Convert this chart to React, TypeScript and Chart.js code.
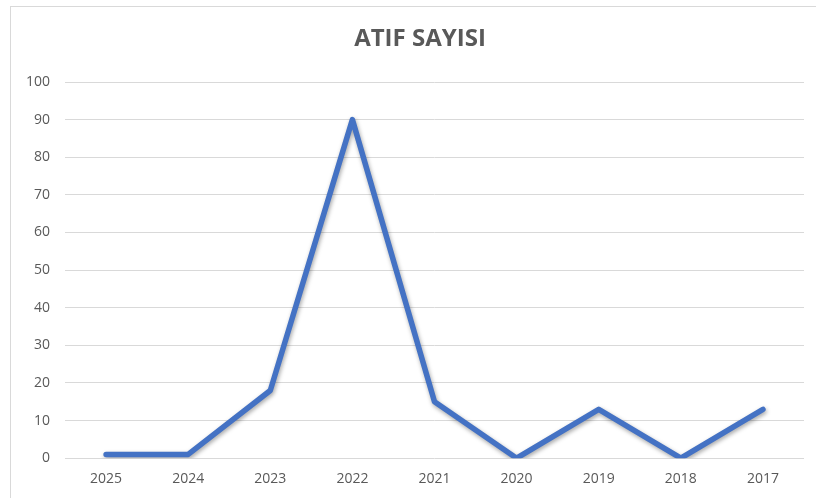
import React, { useEffect, useRef } from "react";
import { Chart, registerables } from "chart.js";

Chart.register(...registerables);

const years = ["2025", "2024", "2023", "2022", "2021", "2020", "2019", "2018", "2017"];
const citations = [1, 1, 18, 90, 15, 0, 13, 0, 13];
const titleText = "ATIF SAYISI";

const fontFamily = "'Open Sans', 'Liberation Sans', sans-serif";

const shadowPlugin = {
  id: "lineShadow",
  beforeDatasetsDraw(chart: any) {
    const ctx = chart.ctx;
    ctx.save();
    ctx.shadowColor = "rgba(0,0,0,0.35)";
    ctx.shadowBlur = 4;
    ctx.shadowOffsetX = 1;
    ctx.shadowOffsetY = 2;
  },
  afterDatasetsDraw(chart: any) {
    chart.ctx.restore();
  },
};

const titlePlugin = {
  id: "centeredTitle",
  afterDraw(chart: any) {
    const ctx = chart.ctx;
    ctx.save();
    ctx.fillStyle = "#595959";
    ctx.font = `bold 24px ${fontFamily}`;
    ctx.textAlign = "center";
    ctx.textBaseline = "middle";
    ctx.fillText(titleText, chart.width / 2 + 4, 32);
    ctx.restore();
  },
};

export default function App() {
  const ref = useRef<HTMLCanvasElement>(null);
  useEffect(() => {
    if (!ref.current) return;
    const chart = new Chart(ref.current, {
      type: "line",
      data: {
        labels: years,
        datasets: [
          {
            data: citations,
            borderColor: "#4472C4",
            borderWidth: 5.5,
            pointRadius: 0,
            tension: 0,
            fill: false,
            borderJoinStyle: "round",
            borderCapStyle: "round",
          },
        ],
      },
      plugins: [shadowPlugin, titlePlugin],
      options: {
        animation: false,
        responsive: false,
        maintainAspectRatio: false,
        layout: { padding: { left: 0, right: 17, top: 75, bottom: 6 } },
        plugins: {
          legend: { display: false },
          tooltip: { enabled: false },
          title: { display: false },
        },
        scales: {
          x: {
            offset: true,
            grid: { display: false, drawTicks: false },
            border: { display: false },
            ticks: {
              color: "#595959",
              font: { family: fontFamily, size: 14 },
              padding: 12,
            },
          },
          y: {
            min: 0,
            max: 100,
            ticks: {
              stepSize: 10,
              color: "#595959",
              font: { family: fontFamily, size: 14 },
              padding: 15,
            },
            grid: { color: "#d9d9d9", lineWidth: 1, drawTicks: false },
            border: { display: false },
          },
        },
      },
    });
    return () => chart.destroy();
  }, []);
  return (
    <div
      style={{
        position: "fixed",
        left: 10,
        top: 6,
        width: 812,
        height: 500,
        border: "1px solid #d9d9d9",
        background: "#fff",
        boxSizing: "border-box",
      }}
    >
      <canvas ref={ref} width={810} height={498} style={{ display: "block" }} />
    </div>
  );
}
